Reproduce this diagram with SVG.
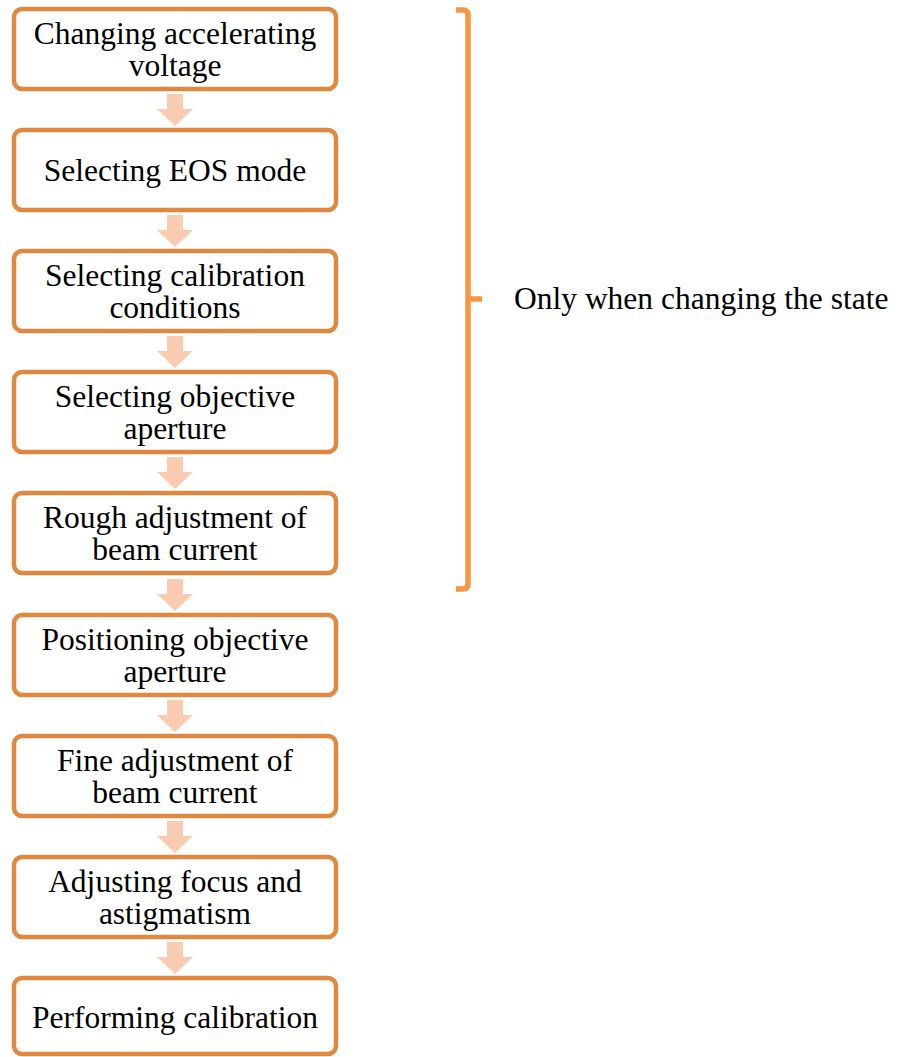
<svg xmlns="http://www.w3.org/2000/svg" width="909" height="1057" viewBox="0 0 909 1057">
  <style>
    .box { fill: #ffffff; stroke: #e0883f; stroke-width: 4.5; }
    .lbl { font-family: "Liberation Serif", "Times New Roman", serif; font-size: 31.5px; fill: #000000; text-anchor: middle; }
    .arrow { fill: #f9cbb0; }
    .brace { fill: none; stroke: #f79646; stroke-width: 5.5; stroke-linejoin: round; }
  </style>
  <defs>
    <path id="down" d="M-8,0 H8 V15 H18 L0,32 L-18,15 H-8 Z"/>
  </defs>

  <g id="connectors">
    <use href="#down" class="arrow" x="175" y="94"/>
    <use href="#down" class="arrow" x="175" y="215"/>
    <use href="#down" class="arrow" x="175" y="336"/>
    <use href="#down" class="arrow" x="175" y="457"/>
    <use href="#down" class="arrow" x="175" y="579"/>
    <use href="#down" class="arrow" x="175" y="700"/>
    <use href="#down" class="arrow" x="175" y="821"/>
    <use href="#down" class="arrow" x="175" y="942"/>
  </g>

  <g id="n1">
    <rect class="box" x="14" y="9" width="322" height="80" rx="8"/>
    <text class="lbl" x="175" y="44">Changing accelerating</text>
    <text class="lbl" x="175" y="76">voltage</text>
  </g>
  <g id="n2">
    <rect class="box" x="14" y="130" width="322" height="80" rx="8"/>
    <text class="lbl" x="175" y="181">Selecting EOS mode</text>
  </g>
  <g id="n3">
    <rect class="box" x="14" y="251" width="322" height="80" rx="8"/>
    <text class="lbl" x="175" y="286">Selecting calibration</text>
    <text class="lbl" x="175" y="318">conditions</text>
  </g>
  <g id="n4">
    <rect class="box" x="14" y="372" width="322" height="80" rx="8"/>
    <text class="lbl" x="175" y="407">Selecting objective</text>
    <text class="lbl" x="175" y="439">aperture</text>
  </g>
  <g id="n5">
    <rect class="box" x="14" y="493" width="322" height="80" rx="8"/>
    <text class="lbl" x="175" y="528">Rough adjustment of</text>
    <text class="lbl" x="175" y="560">beam current</text>
  </g>
  <g id="n6">
    <rect class="box" x="14" y="615" width="322" height="80" rx="8"/>
    <text class="lbl" x="175" y="650">Positioning objective</text>
    <text class="lbl" x="175" y="682">aperture</text>
  </g>
  <g id="n7">
    <rect class="box" x="14" y="736" width="322" height="80" rx="8"/>
    <text class="lbl" x="175" y="771">Fine adjustment of</text>
    <text class="lbl" x="175" y="803">beam current</text>
  </g>
  <g id="n8">
    <rect class="box" x="14" y="857" width="322" height="80" rx="8"/>
    <text class="lbl" x="175" y="892">Adjusting focus and</text>
    <text class="lbl" x="175" y="924">astigmatism</text>
  </g>
  <g id="n9">
    <rect class="box" x="14" y="978" width="322" height="76" rx="8"/>
    <text class="lbl" x="175" y="1028">Performing calibration</text>
  </g>

  <g id="bracket">
    <path class="brace" d="M456,10 H463 Q468,10 468,15 V584 Q468,589 463,589 H456 M468,299 H482"/>
    <text x="514" y="309" font-family="Liberation Serif, Times New Roman, serif" font-size="31.5" fill="#000000">Only when changing the state</text>
  </g>
</svg>
